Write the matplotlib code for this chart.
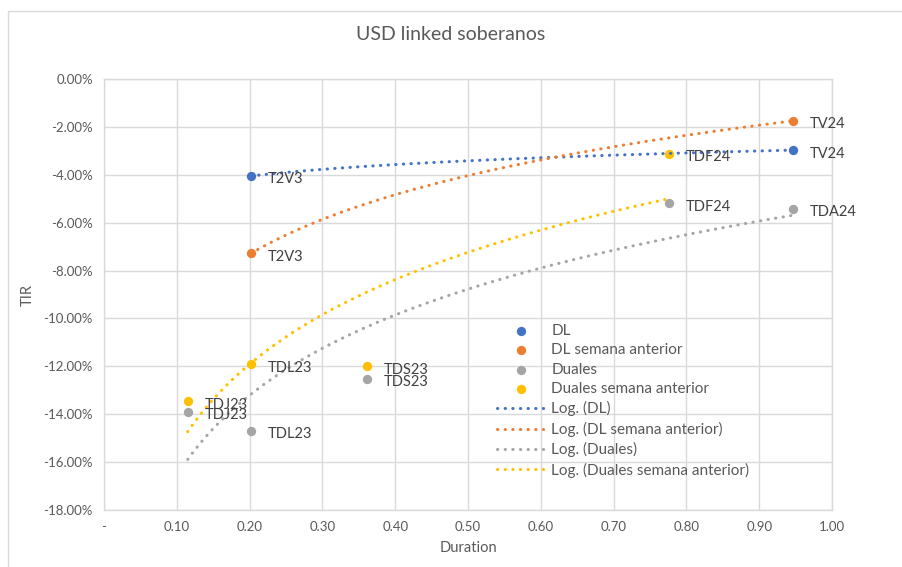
import numpy as np
import matplotlib
matplotlib.use("Agg")
from matplotlib import pyplot as plt
from matplotlib.patches import Rectangle

plt.rcParams['font.family'] = ['Lato', 'DejaVu Sans']

# Duration (x) and TIR in % (y) for each series
dl_x = [0.202, 0.946]
dl_y = [-4.05, -2.97]
dl_lab = ["T2V3", "TV24"]

dl_prev_x = [0.202, 0.946]
dl_prev_y = [-7.28, -1.75]
dl_prev_lab = ["T2V3", "TV24"]

duales_x = [0.115, 0.202, 0.361, 0.776, 0.946]
duales_y = [-13.90, -14.70, -12.53, -5.18, -5.43]
duales_lab = ["TDJ23", "TDL23", "TDS23", "TDF24", "TDA24"]

duales_prev_x = [0.115, 0.202, 0.361, 0.776]
duales_prev_y = [-13.45, -11.92, -11.99, -3.13]
duales_prev_lab = ["TDJ23", "TDL23", "TDS23", "TDF24"]

names = ["DL", "DL semana anterior", "Duales", "Duales semana anterior"]
colors = ["#4472C4", "#ED7D31", "#A5A5A5", "#FFC000"]

series = [(dl_x, dl_y, dl_lab), (dl_prev_x, dl_prev_y, dl_prev_lab),
          (duales_x, duales_y, duales_lab), (duales_prev_x, duales_prev_y, duales_prev_lab)]

fig = plt.figure(figsize=(9.02, 5.67), dpi=100)
# chart border
fig.patches.append(Rectangle((8/902, -0.1), 1.0, 1 - 11/567 + 0.1, transform=fig.transFigure,
                             fill=False, edgecolor="#d9d9d9", linewidth=1.0))
ax = fig.add_axes([104/902, 1 - 510/567, 728/902, 431/567])

grey_txt = "#595959"
handles_pts = []
handles_log = []
for (xs, ys, labs), name, c in zip(series, names, colors):
    h = ax.scatter(xs, ys, s=45, color=c, zorder=3, label=name, linewidths=0)
    handles_pts.append(h)
    # logarithmic trendline, like Excel
    a, b = np.polyfit(np.log(xs), ys, 1)
    xx = np.linspace(min(xs), max(xs), 200)
    ln, = ax.plot(xx, a * np.log(xx) + b, color=c, linewidth=2.2,
                  linestyle=(0, (0.1, 2.4)), dash_capstyle="round", zorder=4,
                  label="Log. (" + name + ")")
    handles_log.append(ln)
    for x, y, t in zip(xs, ys, labs):
        ax.annotate(t, (x, y), xytext=(12, -2.5), textcoords="offset points",
                    va="center", ha="left", fontsize=10.5, color="#404040", zorder=5)

ax.set_xlim(0, 1)
ax.set_ylim(-18, 0)
ax.set_xticks(np.arange(0, 1.01, 0.1))
ax.set_yticks(np.arange(-18, 0.1, 2))
ax.xaxis.set_major_formatter(lambda v, p: "-" if abs(v) < 1e-9 else f"{v:.2f}")
ax.yaxis.set_major_formatter(lambda v, p: f"{v:.2f}%")
ax.tick_params(length=0, labelsize=9.5, labelcolor=grey_txt, pad=8)
ax.grid(True, color="#d9d9d9", linewidth=1.0)
ax.set_axisbelow(True)
for s in ax.spines.values():
    s.set_color("#d9d9d9")
    s.set_linewidth(1.0)

ax.set_xlabel("Duration", fontsize=10.5, color=grey_txt, labelpad=6)
ax.set_ylabel("TIR", fontsize=10.5, color=grey_txt, labelpad=6)
fig.suptitle("USD linked soberanos", fontsize=14, color=grey_txt, y=0.955, x=0.5)

leg = ax.legend(handles=handles_pts + handles_log, loc="upper left",
                bbox_to_anchor=(497/902, 1 - 324/567), bbox_transform=fig.transFigure,
                frameon=False, fontsize=11, handlelength=3.1, handletextpad=0.45,
                labelspacing=0.35, borderpad=0, borderaxespad=0)
for t in leg.get_texts():
    t.set_color(grey_txt)

fig.savefig("out.png", dpi=100)
